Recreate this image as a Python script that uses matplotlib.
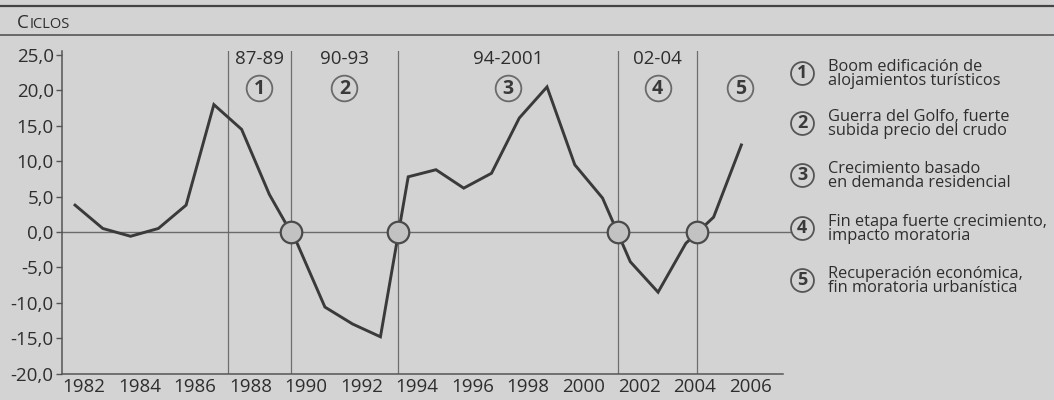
import matplotlib
matplotlib.use("Agg")
import matplotlib.pyplot as plt
import matplotlib.transforms as mtransforms
import numpy as np

plt.rcParams['font.family'] = ['Open Sans', 'DejaVu Sans']

# datos
years = list(range(1982, 2007))
ciclos = [3.8, 0.5, -0.6, 0.5, 3.8, 18.0, 14.5, 5.3, -1.6, -10.6, -13.0, -14.8,
          7.8, 8.8, 6.2, 8.3, 16.1, 20.5, 9.5, 4.8, -4.2, -8.5, -1.6, 2.1, 12.3]

# limites de las etapas (cruces por cero)
bounds = [1987.5, 1989.78, 1993.62, 2001.55, 2004.42]
period_tags = ['87-89', '90-93', '94-2001', '02-04', '']
period_nums = ['1', '2', '3', '4', '5']
legend_texts = [
    'Boom edificación de\nalojamientos turísticos',
    'Guerra del Golfo, fuerte\nsubida precio del crudo',
    'Crecimiento basado\nen demanda residencial',
    'Fin etapa fuerte crecimiento,\nimpacto moratoria',
    'Recuperación económica,\nfin moratoria urbanística',
]
yticks = [-20, -15, -10, -5, 0, 5, 10, 15, 20, 25]
xtick_years = list(range(1982, 2007, 2))

bg = '#d3d3d3'
ink = '#2e2e2e'
W, H = 1054, 400

fig = plt.figure(figsize=(W / 100, H / 100), dpi=100, facecolor=bg)
x0, x1 = 1981.53, 2007.5
ax = fig.add_axes([62 / W, (H - 373.6) / H, (783 - 62) / W, (373.6 - 50.8) / H])
ax.set_facecolor('none')
ax.set_xlim(x0, x1)
ax.set_ylim(-20, 25.6)

for s in ['top', 'right']:
    ax.spines[s].set_visible(False)
for s in ['left', 'bottom']:
    ax.spines[s].set_color('#555555')
    ax.spines[s].set_linewidth(1.1)

ax.set_yticks(yticks)
ax.set_yticklabels([f'{v:.1f}'.replace('.', ',') for v in yticks])
ax.tick_params(axis='y', length=4, width=1, color='#555555', pad=2,
               labelsize=13.5, labelcolor=ink)
ax.set_xticks(xtick_years)
ax.set_xticklabels([str(y) for y in xtick_years])
ax.tick_params(axis='x', length=0, pad=3, labelsize=13.5, labelcolor=ink)
shift = mtransforms.ScaledTranslation(0.09, 0, fig.dpi_scale_trans)
for lab in ax.get_xticklabels():
    lab.set_transform(lab.get_transform() + shift)

# lineas verticales de las etapas
for b in bounds:
    ax.axvline(b, color='#6e6e6e', lw=0.9, zorder=1)

# linea del cero, sale un poco del eje
ax.plot([x0, 2007.8], [0, 0], color='#6a6a6a', lw=1.0, clip_on=False, zorder=1)

ax.plot(years, ciclos, color='#3a3a3a', lw=2.1, zorder=3, solid_joinstyle='miter')

# circulos en los cruces
ax.plot(bounds[1:], [0] * 4, 'o', ms=15.5, mfc='#c2c2c2', mec='#4a4a4a',
        mew=1.6, zorder=4, clip_on=False)

# etiquetas de etapas
edges = bounds + [x1]
for i in range(5):
    mid = (edges[i] + edges[i + 1]) / 2
    if period_tags[i]:
        ax.text(mid, 24.5, period_tags[i], ha='center', va='center',
                fontsize=13.5, color=ink)
    ax.plot(mid, 20.3, 'o', ms=18.5, mfc='none', mec='#6a6a6a', mew=1.3,
            clip_on=False)
    ax.text(mid, 20.2, period_nums[i], ha='center', va='center',
            fontsize=14, fontweight='bold', color='#3a3a3a')

# capa en pixeles para cabecera y leyenda
ov = fig.add_axes([0, 0, 1, 1], facecolor='none')
ov.set_xlim(0, W)
ov.set_ylim(H, 0)
ov.axis('off')
ov.plot([0, W], [6, 6], color='#444444', lw=1.6)
ov.plot([0, W], [35, 35], color='#555555', lw=1.2)
ov.text(17, 28, 'C', fontsize=13.5, color=ink, va='baseline')
ov.text(30, 28, 'ICLOS', fontsize=10.5, color=ink, va='baseline')

rows = [73, 123, 175, 228, 280]
for num, txt, ry in zip(period_nums, legend_texts, rows):
    ov.plot(802, ry, 'o', ms=16.5, mfc='none', mec='#555555', mew=1.3)
    ov.text(802, ry, num, ha='center', va='center', fontsize=13,
            fontweight='bold', color='#3a3a3a')
    ov.text(828, ry + 1, txt, ha='left', va='center', fontsize=11.8,
            color=ink, linespacing=0.88)

fig.savefig('out.png', dpi=100, facecolor=bg)
